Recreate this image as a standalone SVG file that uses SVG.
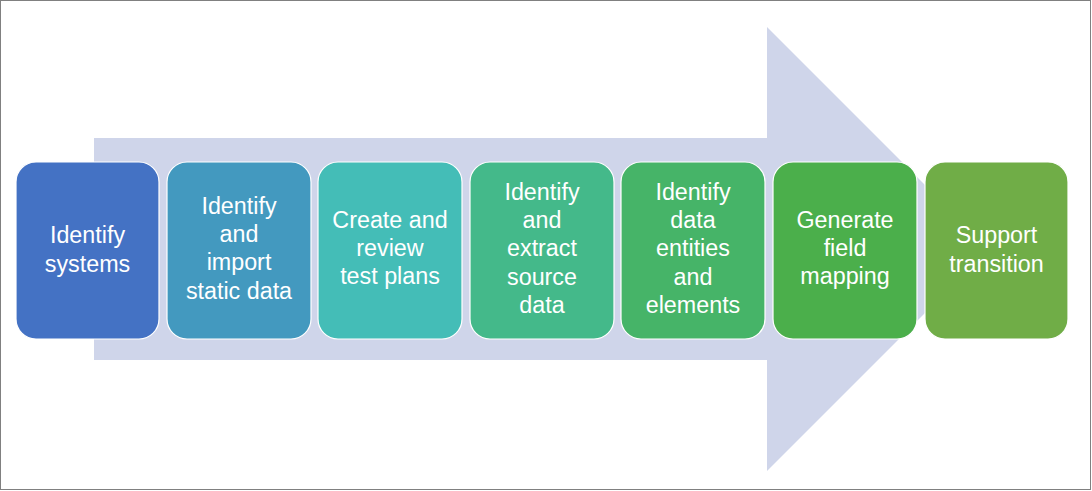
<svg xmlns="http://www.w3.org/2000/svg" width="1092" height="491" viewBox="0 0 1092 491">
<style>
.box{stroke:#ffffff;stroke-width:1.2}
.t{font-family:"Liberation Sans",Arial,sans-serif;font-size:23.3px;fill:#ffffff;text-anchor:middle}
</style>
<rect x="0.5" y="0.5" width="1090" height="489" fill="#ffffff" stroke="#808080" stroke-width="1"/>
<g id="connectors">
<polygon points="94,138 767,138 767,27 989,249 767,471 767,360 94,360" fill="#CFD5EA"/>
</g>
<g id="n1"><rect class="box" x="16" y="162" width="143" height="177" rx="20" fill="#4472C4"/>
<text class="t" x="87.5" y="243">Identify</text><text class="t" x="87.5" y="272">systems</text></g>
<g id="n2"><rect class="box" x="167" y="162" width="144" height="177" rx="20" fill="#4399BF"/>
<text class="t" x="239" y="214">Identify</text><text class="t" x="239" y="242">and</text><text class="t" x="239" y="270">import</text><text class="t" x="239" y="299">static data</text></g>
<g id="n3"><rect class="box" x="318" y="162" width="144" height="177" rx="20" fill="#44BDB7"/>
<text class="t" x="390" y="228">Create and</text><text class="t" x="390" y="256">review</text><text class="t" x="390" y="284">test plans</text></g>
<g id="n4"><rect class="box" x="470" y="162" width="144" height="177" rx="20" fill="#44B98A"/>
<text class="t" x="542" y="200">Identify</text><text class="t" x="542" y="228">and</text><text class="t" x="542" y="256">extract</text><text class="t" x="542" y="285">source</text><text class="t" x="542" y="313">data</text></g>
<g id="n5"><rect class="box" x="621" y="162" width="144" height="177" rx="20" fill="#46B468"/>
<text class="t" x="693" y="200">Identify</text><text class="t" x="693" y="228">data</text><text class="t" x="693" y="256">entities</text><text class="t" x="693" y="285">and</text><text class="t" x="693" y="313">elements</text></g>
<g id="n6"><rect class="box" x="773" y="162" width="144" height="177" rx="20" fill="#4BAF4B"/>
<text class="t" x="845" y="228">Generate</text><text class="t" x="845" y="256">field</text><text class="t" x="845" y="284">mapping</text></g>
<g id="n7"><rect class="box" x="925" y="162" width="143" height="177" rx="20" fill="#70AD47"/>
<text class="t" x="996.5" y="243">Support</text><text class="t" x="996.5" y="272">transition</text></g>
</svg>
